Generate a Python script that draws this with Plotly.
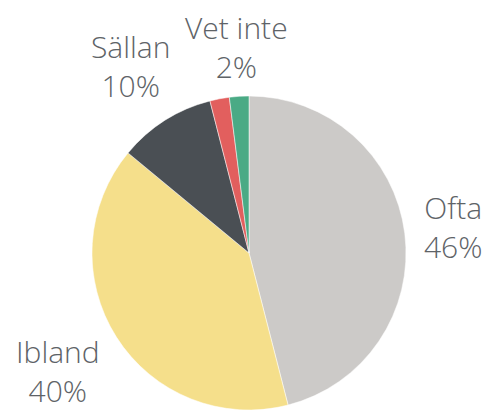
import math
import plotly.graph_objects as go

labels = ["Ofta", "Ibland", "Sällan", "Aldrig", "Vet inte"]
values = [46, 40, 10, 2, 2]
colors = ["#CCCAC8", "#F5DF8B", "#4A4F54", "#E25F5E", "#4AAA85"]
show_label = [True, True, True, False, True]

# ---- layout constants (pixels) ----
W, H = 489, 410
R = 157
CX, CY = 249, H - R
FONT_SIZE = 30
CHAR_W = 14.5      # approx. px per character at this size
HALF_H = 30        # half height of a two-line label
BOX_HALF = 39      # half height of the annotation box
GAP = 16

fig = go.Figure(go.Pie(
    labels=labels,
    values=values,
    marker=dict(colors=colors, line=dict(color="white", width=0.5)),
    sort=False,
    direction="clockwise",
    rotation=0,
    textinfo="none",
    domain=dict(x=[(CX - R) / W, (CX + R) / W], y=[0.0, 2 * R / H]),
    showlegend=False,
    hoverinfo="label+percent",
))

total = sum(values)
cum = 0
annotations = []
for lab, val, show in zip(labels, values, show_label):
    mid = (cum + val / 2) / total * 2 * math.pi
    cum += val
    if not show:
        continue
    ux, uy = math.sin(mid), -math.cos(mid)  # screen direction (y down)
    pct = round(val / total * 100)
    half_w = CHAR_W * max(len(lab), len(f"{pct}%")) / 2
    dist = R + GAP + abs(ux) * half_w + abs(uy) * HALF_H
    px = CX + ux * dist
    py = min(CY + uy * dist, H - BOX_HALF)
    annotations.append(dict(
        x=px / W, y=1 - py / H, xref="paper", yref="paper",
        text=f"{lab}<br>{pct}%", showarrow=False,
        xanchor="center", yanchor="middle", align="center",
        font=dict(family="Open Sans", size=FONT_SIZE, color="#5E6367", weight=300),
    ))

fig.update_layout(
    width=W, height=H,
    margin=dict(l=0, r=0, t=0, b=0),
    paper_bgcolor="white",
    plot_bgcolor="white",
    annotations=annotations,
)

fig.write_html(
    "out.html",
    config={"displayModeBar": False},
    post_script="document.body.style.margin='0';document.body.style.overflow='hidden';",
)
